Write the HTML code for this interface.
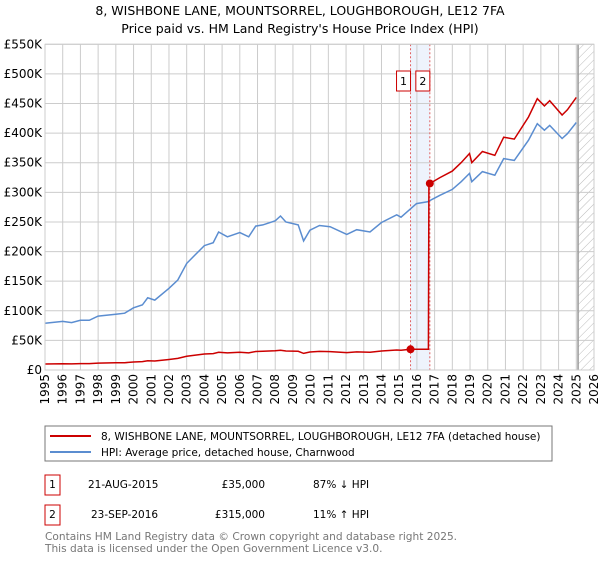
<!DOCTYPE html>
<html><head><meta charset="utf-8"><style>
body{margin:0;background:#fff;font-family:"Liberation Sans","DejaVu Sans",sans-serif;}
svg text{font-family:"DejaVu Sans","Liberation Sans",sans-serif;}
</style></head><body>
<svg id="chart" width="600" height="560" viewBox="0 0 600 560" xmlns="http://www.w3.org/2000/svg">
<defs><pattern id="hatch" width="6" height="6" patternUnits="userSpaceOnUse" patternTransform="rotate(45)"><line x1="0" y1="0" x2="0" y2="6" stroke="#bbb" stroke-width="1"/></pattern></defs>
<text x="300" y="15" text-anchor="middle" font-size="12.5" fill="#000">8, WISHBONE LANE, MOUNTSORREL, LOUGHBOROUGH, LE12 7FA</text>
<text x="300" y="33" text-anchor="middle" font-size="12.5" fill="#000">Price paid vs. HM Land Registry's House Price Index (HPI)</text>
<g id="grid"></g><g id="marks"></g><g id="axes"></g>
<rect x="45" y="426" width="507" height="35" fill="#fff" stroke="#777"/>
<line x1="50" y1="436" x2="91" y2="436" stroke="#cc0000" stroke-width="2"/>
<text x="101" y="440" font-size="10.5">8, WISHBONE LANE, MOUNTSORREL, LOUGHBOROUGH, LE12 7FA (detached house)</text>
<line x1="50" y1="452" x2="91" y2="452" stroke="#5b8dd0" stroke-width="2"/>
<text x="101" y="456" font-size="10.5">HPI: Average price, detached house, Charnwood</text>
<g>
<rect x="45" y="475" width="15" height="20" fill="#fff" stroke="#cc0000"/><text x="52.5" y="488" font-size="10.5" text-anchor="middle">1</text>
<text x="88" y="488" font-size="10.5">21-AUG-2015</text><text x="265" y="488" font-size="10.5" text-anchor="end">£35,000</text><text x="313" y="488" font-size="10.5">87% ↓ HPI</text></g>
<g>
<rect x="45" y="505" width="15" height="20" fill="#fff" stroke="#cc0000"/><text x="52.5" y="518" font-size="10.5" text-anchor="middle">2</text>
<text x="91" y="518" font-size="10.5">23-SEP-2016</text><text x="265" y="518" font-size="10.5" text-anchor="end">£315,000</text><text x="313" y="518" font-size="10.5">11% ↑ HPI</text></g>
<text x="45" y="540" font-size="10.6" fill="#777">Contains HM Land Registry data © Crown copyright and database right 2025.</text>
<text x="45" y="552" font-size="10.6" fill="#777">This data is licensed under the Open Government Licence v3.0.</text>
</svg>
<script>
const hpiYears=[1995,1996,1996.5,1997,1997.5,1998,1999,1999.5,2000,2000.5,2000.8,2001.2,2002,2002.5,2003,2003.5,2004,2004.5,2004.8,2005.3,2006,2006.5,2006.9,2007.3,2008,2008.3,2008.6,2009.3,2009.6,2009.96,2010.5,2011.1,2012.04,2012.6,2013.35,2014.0,2014.86,2015.1,2015.98,2016.6,2017.3,2018.0,2018.5,2018.97,2019.1,2019.7,2020.4,2020.9,2021.5,2022.3,2022.8,2023.2,2023.5,2024.2,2024.5,2025.0];
const hpiValues=[79,82,80,84,84,91,94,96,105,110,122,118,138,152,180,195,210,215,233,225,232,225,243,245,252,260,250,245,218,236,244,242,229,237,233,249,262,258,281,284,295,305,318,332,318,335,329,357,354,388,416,405,413,391,399,418];
const saleYears=[2015.64,2016.73];
const salePrices=[35,315];
const yTicks=[0,50,100,150,200,250,300,350,400,450,500,550];
const yTickLabels=["£0","£50K","£100K","£150K","£200K","£250K","£300K","£350K","£400K","£450K","£500K","£550K"];
const xTicks=[1995,1996,1997,1998,1999,2000,2001,2002,2003,2004,2005,2006,2007,2008,2009,2010,2011,2012,2013,2014,2015,2016,2017,2018,2019,2020,2021,2022,2023,2024,2025,2026];
const NS="http://www.w3.org/2000/svg";
const X0=45,X1=594,Y0=370,Y1=44.3,YR0=1995,YR1=2026,VMAX=550;
const xs=y=>X0+(y-YR0)/(YR1-YR0)*(X1-X0);
const ys=v=>Y0-v/VMAX*(Y0-Y1);
function mk(tag,attrs,parent){const e=document.createElementNS(NS,tag);for(const k in attrs)e.setAttribute(k,attrs[k]);parent.appendChild(e);return e;}
const grid=document.getElementById('grid'),marks=document.getElementById('marks'),axes=document.getElementById('axes');
function hpiAt(t){if(t<=hpiYears[0])return hpiValues[0];for(let i=1;i<hpiYears.length;i++){if(t<=hpiYears[i]){const f=(t-hpiYears[i-1])/(hpiYears[i]-hpiYears[i-1]);return hpiValues[i-1]+f*(hpiValues[i]-hpiValues[i-1]);}}return hpiValues[hpiValues.length-1];}
const band=mk('rect',{x:xs(saleYears[0]),y:Y1,width:xs(saleYears[1])-xs(saleYears[0]),height:Y0-Y1,fill:'#eef3fc'},grid);


const hz=mk('rect',{x:xs(2025.1),y:Y1,width:X1-xs(2025.1),height:Y0-Y1,fill:'url(#hatch)'},grid);


yTicks.forEach((v,i)=>{
 mk('line',{x1:X0,x2:X1,y1:ys(v),y2:ys(v),stroke:'#ccc','stroke-width':1},grid);
 const t=mk('text',{x:X0-3,y:ys(v)+4,'text-anchor':'end','font-size':12},axes);t.textContent=yTickLabels[i];
 
 
});
xTicks.forEach(yr=>{
 mk('line',{x1:xs(yr),x2:xs(yr),y1:Y1,y2:Y0,stroke:'#ccc','stroke-width':1},grid);
 const t=mk('text',{x:0,y:0,'text-anchor':'end','font-size':12,transform:`translate(${xs(yr)+4},${Y0+4}) rotate(-90)`},axes);t.textContent=yr;
 
 
});
mk('line',{x1:xs(2025.1),x2:xs(2025.1),y1:Y1,y2:Y0,stroke:'#999','stroke-width':1.5},grid);
saleYears.forEach(yr=>{mk('line',{x1:xs(yr),x2:xs(yr),y1:Y1,y2:Y0,stroke:'#e06060','stroke-width':1,'stroke-dasharray':'2,2'},grid);});
const hp=mk('path',{d:hpiYears.map((y,i)=>(i?'L':'M')+xs(y).toFixed(1)+','+ys(hpiValues[i]).toFixed(1)).join(''),fill:'none',stroke:'#5b8dd0','stroke-width':1.5},marks);


const pts=[];
const r0=salePrices[0]/hpiAt(saleYears[0]);
hpiYears.forEach((y,i)=>{if(y<saleYears[0])pts.push([y,hpiValues[i]*r0]);});
pts.push([saleYears[0],salePrices[0]]);
pts.push([saleYears[1]-0.08,salePrices[0]]);
pts.push([saleYears[1]-0.05,salePrices[1]]);
pts.push([saleYears[1],salePrices[1]]);
const r1=salePrices[1]/hpiAt(saleYears[1]);
hpiYears.forEach((y,i)=>{if(y>saleYears[1])pts.push([y,hpiValues[i]*r1]);});
const pl=mk('path',{d:pts.map((p,i)=>(i?'L':'M')+xs(p[0]).toFixed(1)+','+ys(p[1]).toFixed(1)).join(''),fill:'none',stroke:'#cc0000','stroke-width':1.5},marks);


saleYears.forEach((yr,i)=>{
 const c=mk('circle',{cx:xs(yr),cy:ys(salePrices[i]),r:4,fill:'#cc0000'},marks);
 
 
 const g=mk('g',{},marks);
 
 
 mk('rect',{x:xs(yr)-14,y:71,width:14,height:20,fill:'#fff',stroke:'#cc0000'},g);
 const t=mk('text',{x:xs(yr)-7,y:85,'text-anchor':'middle','font-size':11},g);t.textContent=i+1;
});
mk('rect',{x:X0,y:Y1,width:X1-X0,height:Y0-Y1,fill:'none',stroke:'#ccc'},axes);
</script>
</body></html>
